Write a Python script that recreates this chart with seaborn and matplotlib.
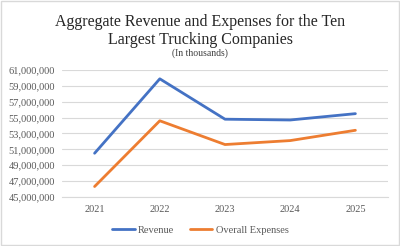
import pandas as pd
import matplotlib.pyplot as plt
import matplotlib.ticker as mticker
import seaborn as sns

years = ['2021', '2022', '2023', '2024', '2025']
revenue = [50500000, 59900000, 54800000, 54700000, 55500000]
expenses = [46300000, 54600000, 51600000, 52100000, 53400000]
series_names = ['Revenue', 'Overall Expenses']
y_ticks = [45000000, 47000000, 49000000, 51000000, 53000000,
           55000000, 57000000, 59000000, 61000000]

df = pd.DataFrame({
    'year': years * 2,
    'value': revenue + expenses,
    'series': [series_names[0]] * 5 + [series_names[1]] * 5,
})

sns.set_style('white')
plt.rcParams['font.family'] = ['Liberation Serif', 'DejaVu Serif']

fig = plt.figure(figsize=(4, 2.46), dpi=100)
ax = fig.add_axes([0.155, 0.2, 0.815, 0.515])

sns.lineplot(data=df, x='year', y='value', hue='series', sort=False,
             palette=['#4472C4', '#ED7D31'], linewidth=2, ax=ax, legend=False)

ax.set_xlim(-0.5, 4.5)
ax.set_yticks(y_ticks)
ax.set_ylim(y_ticks[0], y_ticks[-1])
ax.yaxis.set_major_formatter(mticker.StrMethodFormatter('{x:,.0f}'))
ax.grid(axis='y', color='#D9D9D9', linewidth=0.8)
ax.set_axisbelow(True)
for s in ['top', 'right', 'left']:
    ax.spines[s].set_visible(False)
ax.spines['bottom'].set_color('#D9D9D9')
ax.tick_params(axis='both', labelsize=7.5, colors='#595959', length=0)
ax.tick_params(axis='x', pad=6)
ax.tick_params(axis='y', pad=5)
ax.set_xlabel('')
ax.set_ylabel('')

handles = [plt.Line2D([], [], color=c, linewidth=2) for c in ['#4472C4', '#ED7D31']]
fig.legend(handles, series_names, loc='center', bbox_to_anchor=(0.5, 0.065), ncol=2,
           frameon=False, fontsize=7.5, handlelength=2.2, handletextpad=0.3,
           columnspacing=1.5, labelcolor='#595959')

fig.text(0.5, 0.875, 'Aggregate Revenue and Expenses for the Ten\nLargest Trucking Companies',
         ha='center', va='center', fontsize=11.5, color='#262626', linespacing=1.15)
fig.text(0.5, 0.785, '(In thousands)', ha='center', va='center', fontsize=7, color='#404040')

fig.patches.append(plt.Rectangle((0.002, 0.003), 0.995, 0.993, transform=fig.transFigure,
                                 fill=False, edgecolor='#D9D9D9', linewidth=1))

fig.savefig('out.png', dpi=100, facecolor='white')
